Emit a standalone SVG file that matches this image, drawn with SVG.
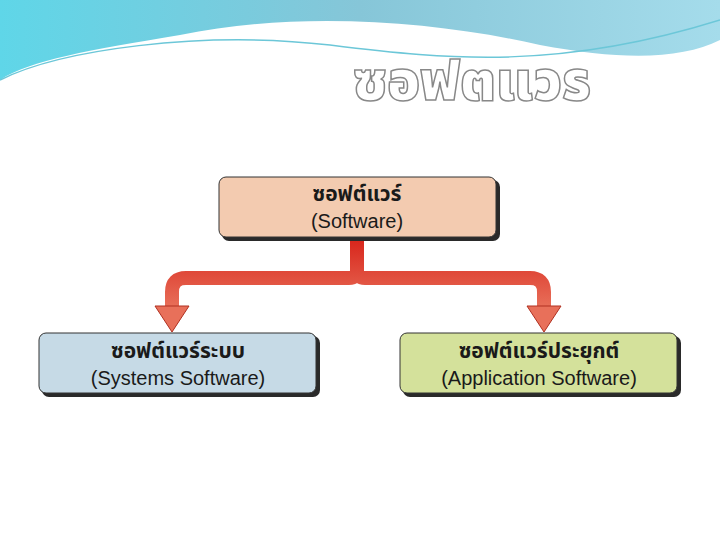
<svg xmlns="http://www.w3.org/2000/svg" width="720" height="540" viewBox="0 0 720 540">
<defs>
<linearGradient id="sky" x1="0" y1="0" x2="1" y2="0"><stop offset="0" stop-color="#5fd6e8"/><stop offset="0.5" stop-color="#86c6d8"/><stop offset="1" stop-color="#a5dceb"/></linearGradient>
<linearGradient id="red" x1="0" y1="0" x2="0" y2="1"><stop offset="0" stop-color="#d8261c"/><stop offset="1" stop-color="#e8705a"/></linearGradient>
<style>
.box{stroke:#333;stroke-width:1}
.sh{fill:#2a2a2a}
.th{font-family:"Noto Sans Thai","Noto Sans","DejaVu Sans",sans-serif;font-weight:bold;font-size:21px;fill:#1a1a1a;text-anchor:middle}
.en{font-family:"Liberation Sans",Arial,sans-serif;font-size:20px;fill:#1a1a1a;text-anchor:middle}
</style>
</defs>
<path d="M0,0 H720 V40 C680,60 620,60 540,45 C440,22 300,10 180,35 C90,50 30,60 0,80 Z" fill="url(#sky)"/>
<path d="M0,80 C60,50 200,30 330,45 C450,60 560,70 720,20" fill="none" stroke="#6cc7d8" stroke-width="1.5"/>
<text x="472" y="100" font-family="'Noto Sans Thai','Noto Sans',sans-serif" font-size="54" font-weight="900" fill="#fff" stroke="#888" stroke-width="1.5" text-anchor="middle">ซอฟตแวร</text>
<g id="connectors">
<path d="M357,240 V270 Q357,278 349,278 H186 Q172,278 172,292 V308" fill="none" stroke="url(#red)" stroke-width="14" stroke-linejoin="round"/>
<path d="M357,240 V270 Q357,278 365,278 H530 Q544,278 544,292 V308" fill="none" stroke="url(#red)" stroke-width="14" stroke-linejoin="round"/>
<polygon points="155,306 189,306 172,332" fill="#e8705a" stroke="#b03020" stroke-width="1"/>
<polygon points="527,306 561,306 544,332" fill="#e8705a" stroke="#b03020" stroke-width="1"/>
</g>
<g id="software">
<rect x="222" y="180" width="278" height="61" rx="7" class="sh"/>
<rect x="219" y="177" width="277" height="60" rx="7" fill="#f3cbb0" class="box"/>
<text x="357" y="201" class="th">ซอฟต์แวร์</text>
<text x="357" y="228" class="en">(Software)</text>
</g>
<g id="systems">
<rect x="42" y="336" width="278" height="61" rx="7" class="sh"/>
<rect x="39" y="333" width="277" height="60" rx="7" fill="#c6dae6" class="box"/>
<text x="178" y="358" class="th">ซอฟต์แวร์ระบบ</text>
<text x="178" y="385" class="en">(Systems Software)</text>
</g>
<g id="application">
<rect x="403" y="336" width="278" height="61" rx="7" class="sh"/>
<rect x="400" y="333" width="277" height="60" rx="7" fill="#d4e19b" class="box"/>
<text x="539" y="358" class="th">ซอฟต์แวร์ประยุกต์</text>
<text x="539" y="385" class="en">(Application Software)</text>
</g>
</svg>
